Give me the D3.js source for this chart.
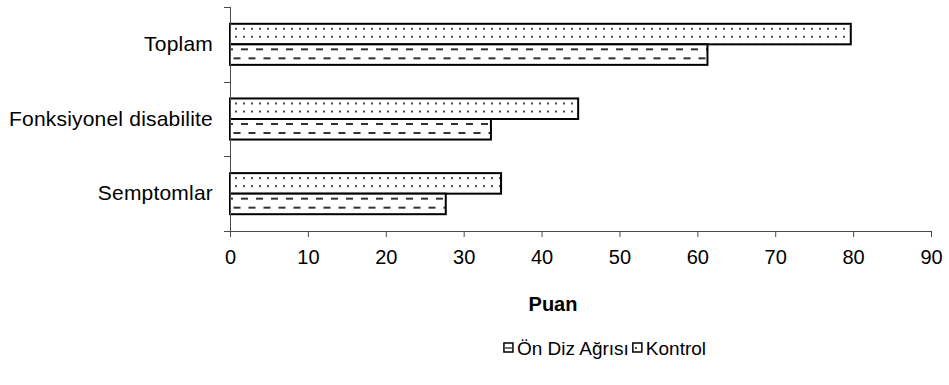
<!DOCTYPE html>
<html><head><meta charset="utf-8">
<script src="https://cdn.jsdelivr.net/npm/d3@7"></script>
<style>body{margin:0;background:#fff}svg{display:block}text{font-family:"Liberation Sans",Arial,sans-serif;fill:#000}</style>
</head><body><svg id="c" width="949" height="385"></svg>
<script>
const categories = ["Toplam", "Fonksiyonel disabilite", "Semptomlar"];
const seriesNames = ["Ön Diz Ağrısı", "Kontrol"];
const onDizAgrisi = [61.3, 33.5, 27.7];
const kontrol = [79.7, 44.7, 34.8];
const xTicks = [0, 10, 20, 30, 40, 50, 60, 70, 80, 90];
const xTitle = "Puan";

const FS = "20px";
const svg = d3.select("#c");
const defs = svg.append("defs");
const x = d3.scaleLinear().domain([0, 90]).range([230, 931]);
const y = d3.scaleBand().domain(categories).range([7, 231]).padding(0);
const barH = y.bandwidth() * 0.275;
const groupTop = c => y(c) + (y.bandwidth() - 2 * barH) / 2;

function dotPattern(id, oy) {
  const p = defs.append("pattern").attr("id", id).attr("patternUnits", "userSpaceOnUse")
    .attr("width", 8).attr("height", 8).attr("x", 0).attr("y", oy);
  p.append("rect").attr("width", 8).attr("height", 8).attr("fill", "#fff");
  p.append("rect").attr("x", 3).attr("y", 3).attr("width", 2).attr("height", 2).attr("fill", "#4a4a4a");
}
function dashPattern(id, oy) {
  const p = defs.append("pattern").attr("id", id).attr("patternUnits", "userSpaceOnUse")
    .attr("width", 15).attr("height", 18).attr("x", 0).attr("y", oy);
  p.append("rect").attr("width", 15).attr("height", 18).attr("fill", "#fff");
  p.append("rect").attr("x", 1).attr("y", 4).attr("width", 7).attr("height", 2).attr("fill", "#333");
  p.append("rect").attr("x", 8.5).attr("y", 13).attr("width", 7).attr("height", 2).attr("fill", "#333");
  p.append("rect").attr("x", -6.5).attr("y", 13).attr("width", 7).attr("height", 2).attr("fill", "#333");
}

const series = [
  { name: seriesNames[1], values: kontrol, kind: "dot", slot: 0 },
  { name: seriesNames[0], values: onDizAgrisi, kind: "dash", slot: 1 }
];

series.forEach(s => {
  categories.forEach((c, i) => {
    const yy = groupTop(c) + s.slot * barH;
    const id = s.kind + i;
    if (s.kind === "dot") dotPattern(id, yy + 1); else dashPattern(id, yy);
    svg.append("rect")
      .attr("x", x(0)).attr("y", yy)
      .attr("width", x(s.values[i]) - x(0)).attr("height", barH)
      .attr("fill", `url(#${id})`).attr("stroke", "#000").attr("stroke-width", 2);
  });
});

const axisColor = "#4a4a4a";
const xa = svg.append("g").attr("transform", `translate(0,${y.range()[1]})`)
  .call(d3.axisBottom(x).tickValues(xTicks).tickSize(6).tickSizeOuter(0).tickFormat(d3.format("d")));
xa.select(".domain").attr("stroke", axisColor).attr("d", `M${x(0) - 6},0.5H${x(90)}`);
xa.selectAll(".tick line").attr("stroke", axisColor);
xa.selectAll(".tick text").attr("y", 27).attr("dy", "0.32em").style("font-size", FS).attr("fill", "#000");

const ya = svg.append("g").attr("transform", `translate(${x(0)},0)`);
ya.append("line").attr("x1", 0.5).attr("x2", 0.5).attr("y1", y.range()[0]).attr("y2", y.range()[1]).attr("stroke", axisColor);
const bounds = categories.map(c => y(c));
ya.selectAll(".bt").data(bounds).join("line")
  .attr("x1", -6).attr("x2", 0).attr("y1", d => Math.round(d) + 0.5).attr("y2", d => Math.round(d) + 0.5).attr("stroke", axisColor);
ya.selectAll(".cl").data(categories).join("text")
  .attr("x", -17).attr("y", d => y(d) + y.bandwidth() / 2).attr("dy", "0.32em")
  .attr("text-anchor", "end").style("font-size", "21px").style("letter-spacing", "0.2px").text(d => d);

svg.append("text").attr("x", 553).attr("y", 305).attr("dy", "0.32em").attr("text-anchor", "middle")
  .style("font-size", FS).style("font-weight", "bold").text(xTitle);

// legend
const leg = svg.append("g");
const legItems = [
  { name: seriesNames[0], kind: "dash" },
  { name: seriesNames[1], kind: "dot" }
];
dotPattern("legDot", 0);
let lx = 0;
const ly = 348;
legItems.forEach(it => {
  leg.append("rect").attr("x", lx).attr("y", ly - 5).attr("width", 9).attr("height", 9)
    .attr("fill", it.kind === "dot" ? "url(#legDot)" : "#fff").attr("stroke", "#000").attr("stroke-width", 1.5);
  if (it.kind === "dash") leg.append("line").attr("x1", lx + 1).attr("x2", lx + 8).attr("y1", ly).attr("y2", ly).attr("stroke", "#444").attr("stroke-width", 1.5);
  const t = leg.append("text").attr("x", lx + 13).attr("y", ly).attr("dy", "0.35em").style("font-size", "19px").text(it.name);
  lx += 13 + t.node().getComputedTextLength() + 4;
});
const lw = lx - 4;
leg.attr("transform", `translate(${605 - lw / 2},0)`);
</script></body></html>
